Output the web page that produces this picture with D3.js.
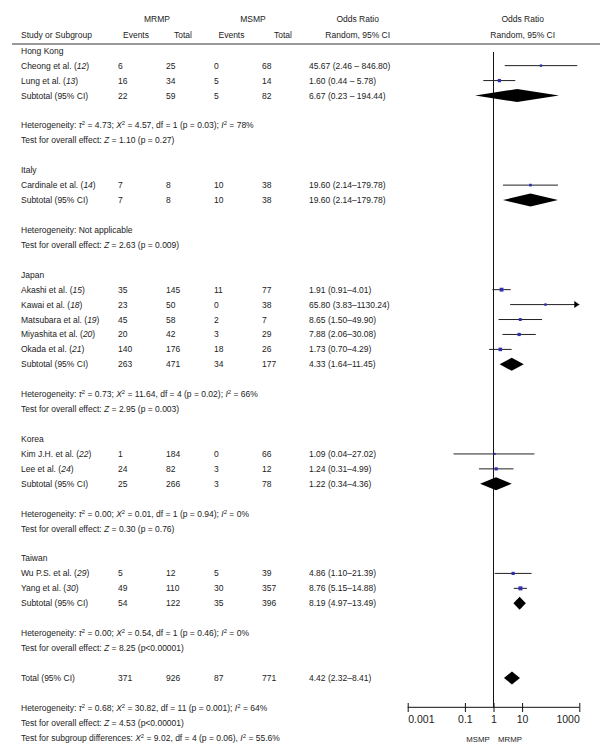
<!DOCTYPE html>
<html><head><meta charset="utf-8">
<script src="https://cdn.jsdelivr.net/npm/d3@7"></script>
<style>
html,body{margin:0;padding:0;background:#fff;}
svg{display:block;font-family:"Liberation Sans",Arial,sans-serif;}
</style></head>
<body><svg id="c" width="600" height="751"></svg>
<script>
// ---- data ----
const groups = ["Hong Kong","Italy","Japan","Korea","Taiwan"];
const studyNames = ["Cheong et al.","Lung et al.","Cardinale et al.","Akashi et al.","Kawai et al.","Matsubara et al.","Miyashita et al.","Okada et al.","Kim J.H. et al.","Lee et al.","Wu P.S. et al.","Yang et al."];
const studyRefs = ["12","13","14","15","18","19","20","21","22","24","29","30"];
const studyGroup = [0,0,1,2,2,2,2,2,3,3,4,4];
const mrmpEvents = [6,16,7,35,23,45,20,140,1,24,5,49];
const mrmpTotal = [25,34,8,145,50,58,42,176,184,82,12,110];
const msmpEvents = [0,5,10,11,0,2,3,18,0,3,5,30];
const msmpTotal = [68,14,38,77,38,7,29,26,66,12,39,357];
const studyOR = [45.67,1.60,19.60,1.91,65.80,8.65,7.88,1.73,1.09,1.24,4.86,8.76];
const studyLo = [2.46,0.44,2.14,0.91,3.83,1.50,2.06,0.70,0.04,0.31,1.10,5.15];
const studyHi = [846.80,5.78,179.78,4.01,1130.24,49.90,30.08,4.29,27.02,4.99,21.39,14.88];
const studyCI = ["45.67 (2.46 \u2013 846.80)","1.60 (0.44 \u2013 5.78)","19.60 (2.14\u2013179.78)","1.91 (0.91\u20134.01)","65.80 (3.83\u20131130.24)","8.65 (1.50\u201349.90)","7.88 (2.06\u201330.08)","1.73 (0.70\u20134.29)","1.09 (0.04\u201327.02)","1.24 (0.31\u20134.99)","4.86 (1.10\u201321.39)","8.76 (5.15\u201314.88)"];
const studyWeight = [4.6,8.6,5.5,11.5,4.7,6.6,8.2,9.7,3.7,7.8,8.0,12.5]; // estimated % weights (square size)

const subEventsMR = [22,7,263,25,54];
const subTotalMR = [59,8,471,266,122];
const subEventsMS = [5,10,34,3,35];
const subTotalMS = [82,38,177,78,396];
const subOR = [6.67,19.60,4.33,1.22,8.19];
const subLo = [0.23,2.14,1.64,0.34,4.97];
const subHi = [194.44,179.78,11.45,4.36,13.49];
const subCI = ["6.67 (0.23 \u2013 194.44)","19.60 (2.14\u2013179.78)","4.33 (1.64\u201311.45)","1.22 (0.34\u20134.36)","8.19 (4.97\u201313.49)"];
const hetTau = ["4.73",null,"0.73","0.00","0.00"];
const hetChi = ["4.57",null,"11.64","0.01","0.54"];
const hetDf = ["1",null,"4","1","1"];
const hetP = ["0.03",null,"0.02","0.94","0.46"];
const hetI = ["78%",null,"66%","0%","0%"];
const effZ = ["1.10","2.63","2.95","0.30","8.25"];
const effP = ["(p = 0.27)","(p = 0.009)","(p = 0.003)","(p = 0.76)","(p<0.00001)"];

const total = {mrE:371,mrT:926,msE:87,msT:771,or:4.42,lo:2.32,hi:8.41,ci:"4.42 (2.32\u20138.41)",
  tau:"0.68",chi:"30.82",df:"11",p:"0.001",I:"64%",z:"4.53",zp:"(p<0.00001)",
  sgChi:"9.02",sgDf:"4",sgP:"0.06",sgI:"55.6%"};
const tickValues = [0.001,0.1,1,10,1000];
const tickLabels = ["0.001","0.1","1","10","1000"];

// ---- layout ----
const svg = d3.select("#c");
const fs = 8.5, col = "#222";
const y = d3.scaleLinear().domain([0,46]).range([50.7,737.7]);
const x = d3.scaleLog().domain([0.001,1000]).range([407.7,579.3]);
const cols = {name:21, e1:118, t1:166, e2:214, t2:262, ci:309};
const sq = d3.scaleSqrt().domain([0,12.5]).range([0,4]);

function txt(xx, yy, s, anchor){
  return svg.append("text").attr("x",xx).attr("y",yy+3).attr("font-size",fs).attr("fill",col)
    .attr("text-anchor",anchor||"start").text(s);
}
function rich(xx, yy, parts){
  const t = svg.append("text").attr("x",xx).attr("y",yy+3).attr("font-size",fs).attr("fill",col);
  parts.forEach(p=>{
    const ts = t.append("tspan").text(p[0]);
    if(p[1]==="i") ts.attr("font-style","italic");
    if(p[1]==="sup") ts.attr("font-size",fs*0.7).attr("dy",-3);
    if(p[2]) ts.attr("dy",p[2]);
  });
  return t;
}
function hetParts(tau,chi,df,p,I){
  return [["Heterogeneity: "],["\u03c4","i"],["2","sup"],[" = "+tau+"; ","",3],["\u03a7","i"],["2","sup"],
    [" = "+chi+", df = "+df+" (p = "+p+"); ","",3],["I","i"],["2","sup"],[" = "+I,"",3]];
}

// header
txt(157,19,"MRMP","middle");
txt(253,19,"MSMP","middle");
txt(357.7,19,"Odds Ratio","middle");
txt(522.7,19,"Odds Ratio","middle");
txt(cols.name,35,"Study or Subgroup");
txt(136,35,"Events","middle");
txt(183,35,"Total","middle");
txt(231.5,35,"Events","middle");
txt(283,35,"Total","middle");
txt(357.7,35,"Random, 95% CI","middle");
txt(522.7,35,"Random, 95% CI","middle");
svg.append("line").attr("x1",12).attr("x2",600).attr("y1",44).attr("y2",44).attr("stroke","#777").attr("stroke-width",1.3);

// vertical reference line
svg.append("line").attr("x1",x(1)).attr("x2",x(1)).attr("y1",52).attr("y2",707.3).attr("stroke","#111").attr("stroke-width",1);

function diamond(row, or, lo, hi){
  const cy = y(row), h = 6.5;
  const pts = [[x(lo),cy],[x(or),cy-h],[x(hi),cy],[x(or),cy+h]];
  svg.append("path").attr("d","M"+pts.map(p=>p.join(",")).join("L")+"Z").attr("fill","#000");
}

let row = 0;
groups.forEach((g,gi)=>{
  txt(cols.name,y(row),g); row++;
  studyNames.forEach((n,i)=>{
    if(studyGroup[i]!==gi) return;
    const yy = y(row);
    rich(cols.name,yy,[[n+" ("],[studyRefs[i],"i"],[")"]]);
    txt(cols.e1,yy,mrmpEvents[i]); txt(cols.t1,yy,mrmpTotal[i]);
    txt(cols.e2,yy,msmpEvents[i]); txt(cols.t2,yy,msmpTotal[i]);
    txt(cols.ci,yy,studyCI[i]);
    const hiC = Math.min(studyHi[i],1000);
    svg.append("line").attr("x1",x(studyLo[i])).attr("x2",x(hiC)).attr("y1",yy).attr("y2",yy)
      .attr("stroke","#222").attr("stroke-width",1);
    if(studyHi[i]>1000){
      const ax = x(1000);
      svg.append("path").attr("d",`M${ax},${yy}L${ax-5},${yy-3.5}L${ax-5},${yy+3.5}Z`).attr("fill","#000");
    }
    const s = sq(studyWeight[i]);
    svg.append("rect").attr("x",x(studyOR[i])-s/2).attr("y",yy-s/2).attr("width",s).attr("height",s).attr("fill","#2f2fb0");
    row++;
  });
  const yy = y(row);
  txt(cols.name,yy,"Subtotal (95% CI)");
  txt(cols.e1,yy,subEventsMR[gi]); txt(cols.t1,yy,subTotalMR[gi]);
  txt(cols.e2,yy,subEventsMS[gi]); txt(cols.t2,yy,subTotalMS[gi]);
  txt(cols.ci,yy,subCI[gi]);
  diamond(row,subOR[gi],subLo[gi],subHi[gi]);
  row += 2;
  if(hetTau[gi]===null) txt(cols.name,y(row),"Heterogeneity: Not applicable");
  else rich(cols.name,y(row),hetParts(hetTau[gi],hetChi[gi],hetDf[gi],hetP[gi],hetI[gi]));
  row++;
  rich(cols.name,y(row),[["Test for overall effect: "],["Z","i"],[" = "+effZ[gi]+" "+effP[gi]]]);
  row += 2;
});
// total
{
  const yy = y(row);
  txt(cols.name,yy,"Total (95% CI)");
  txt(cols.e1,yy,total.mrE); txt(cols.t1,yy,total.mrT);
  txt(cols.e2,yy,total.msE); txt(cols.t2,yy,total.msT);
  txt(cols.ci,yy,total.ci);
  diamond(row,total.or,total.lo,total.hi);
  row += 2;
  rich(cols.name,y(row),hetParts(total.tau,total.chi,total.df,total.p,total.I)); row++;
  rich(cols.name,y(row),[["Test for overall effect: "],["Z","i"],[" = "+total.z+" "+total.zp]]); row++;
  rich(cols.name,y(row),[["Test for subgroup differences: "],["\u03a7","i"],["2","sup"],[" = "+total.sgChi+", df = "+total.sgDf+" (p = "+total.sgP+"), ","",3],["I","i"],["2","sup"],[" = "+total.sgI,"",3]]);
}

// axis
svg.append("line").attr("x1",x(0.001)).attr("x2",x(1000)).attr("y1",707.3).attr("y2",707.3).attr("stroke","#111").attr("stroke-width",1);
const ax = d3.axisBottom(x).tickValues(tickValues).tickFormat((d,i)=>tickLabels[i]).tickSizeInner(9).tickSizeOuter(0).tickPadding(4);
const ag = svg.append("g").attr("transform","translate(0,703)").call(ax);
ag.select(".domain").remove();
ag.selectAll("line").attr("stroke","#111");
ag.selectAll("text").attr("font-size",10.5).attr("fill","#222").attr("font-family","Liberation Sans, Arial, sans-serif")
  .attr("text-anchor",(d,i)=> i===0 ? "start" : (i===tickValues.length-1 ? "end" : "middle"));
txt(478,739,"MSMP","middle").attr("font-size",7.8);
txt(510,739,"MRMP","middle").attr("font-size",7.8);
</script></body></html>
